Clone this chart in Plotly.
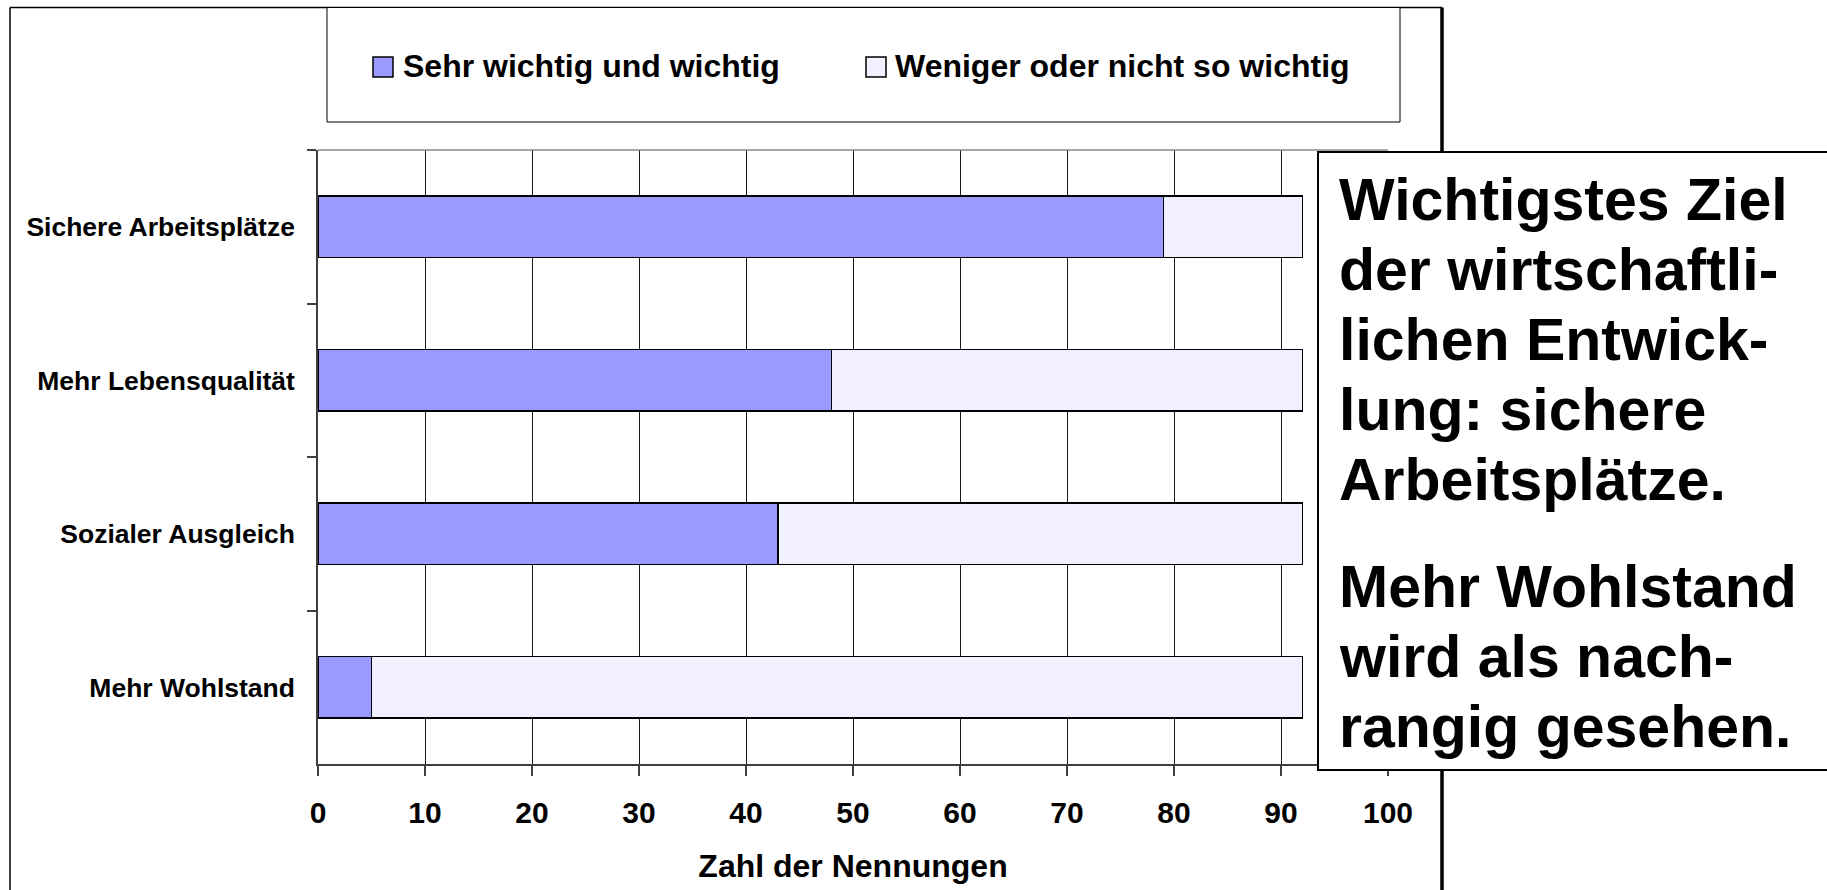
import plotly.graph_objects as go

# ---------------- data ----------------
categories = ["Sichere Arbeitsplätze", "Mehr Lebensqualität", "Sozialer Ausgleich", "Mehr Wohlstand"]
sehr_wichtig = [79, 48, 43, 5]
weniger_wichtig = [13, 44, 49, 87]
series_names = ["Sehr wichtig und wichtig", "Weniger oder nicht so wichtig"]
x_ticks = [0, 10, 20, 30, 40, 50, 60, 70, 80, 90, 100]
x_title = "Zahl der Nennungen"
note_lines_1 = ["Wichtigstes Ziel", "der wirtschaftli-", "lichen Entwick-", "lung: sichere", "Arbeitsplätze."]
note_lines_2 = ["Mehr Wohlstand", "wird als nach-", "rangig gesehen."]

# ---------------- layout geometry ----------------
W, H = 1827, 890
L, T = 318, 150
PW, PH = 1070, 614
R, B = W - L - PW, H - T - PH
FONT = "Liberation Sans, Arial, Helvetica, sans-serif"
C_BLUE = "#9999FF"
C_LIGHT = "#F0F0FF"


def px(x):
    # page x (pixels) -> paper coordinate
    return (x - L) / PW


def py(y):
    # page y (pixels) -> paper coordinate
    return (T + PH - y) / PH


def hline(x0, x1, y, color="black", width=1.5):
    return dict(type="line", xref="paper", yref="paper", x0=px(x0), x1=px(x1), y0=py(y), y1=py(y),
                line=dict(color=color, width=width), layer="above")


def vline(x, y0, y1, color="black", width=1.5):
    return dict(type="line", xref="paper", yref="paper", x0=px(x), x1=px(x), y0=py(y0), y1=py(y1),
                line=dict(color=color, width=width), layer="above")


fig = go.Figure()
fig.add_trace(go.Bar(
    y=categories, x=sehr_wichtig, orientation="h", name=series_names[0],
    marker=dict(color=C_BLUE, line=dict(color="black", width=1.5)),
    showlegend=False,
))
fig.add_trace(go.Bar(
    y=categories, x=weniger_wichtig, orientation="h", name=series_names[1],
    marker=dict(color=C_LIGHT, line=dict(color="black", width=1.5)),
    showlegend=False,
))

shapes = []
annotations = []
TOP = 7.5

# outer chart frame
shapes.append(hline(10, 1442, TOP))
shapes.append(vline(10, TOP, 900))
shapes.append(vline(1442, TOP, 900, width=3.5))
# plot-area top border
shapes.append(dict(type="line", xref="paper", yref="paper", x0=0, x1=1, y0=1, y1=1,
                   line=dict(color="#8a8a8a", width=1.5), layer="above"))

# legend box
shapes.append(dict(type="rect", xref="paper", yref="paper", x0=px(327), x1=px(1400), y0=py(122), y1=py(TOP),
                   line=dict(color="black", width=1), fillcolor="white", layer="above"))
leg_items = [(373, 403, C_BLUE, series_names[0]), (866, 895, C_LIGHT, series_names[1])]
for sx, tx, col, name in leg_items:
    shapes.append(dict(type="rect", xref="paper", yref="paper", x0=px(sx), x1=px(sx + 20), y0=py(77), y1=py(57),
                       line=dict(color="black", width=1.5), fillcolor=col, layer="above"))
    annotations.append(dict(text=name, xref="paper", yref="paper", x=px(tx - 2), y=py(77 - 0.3465 * 32),
                            xanchor="left", yanchor="middle", showarrow=False,
                            font=dict(family=FONT, size=32, color="black", weight="bold")))

# note box (its right side runs past the page edge): white fill + three border lines
shapes.append(dict(type="rect", xref="paper", yref="paper", x0=px(1318), x1=px(1840), y0=py(770), y1=py(152),
                   line=dict(width=0), fillcolor="white", layer="above"))
shapes.append(hline(1317, 1840, 152, width=2))
shapes.append(hline(1317, 1840, 770, width=2))
shapes.append(vline(1318, 151, 771, width=2))
fs_note = 59
baselines = [220, 290, 360, 430, 500, 607, 677, 747]
for line_text, base in zip(note_lines_1 + note_lines_2, baselines):
    annotations.append(dict(text=line_text, xref="paper", yref="paper", x=px(1337), y=py(base - 0.3465 * fs_note),
                            xanchor="left", yanchor="middle", showarrow=False,
                            font=dict(family=FONT, size=fs_note, color="black", weight="bold")))

fig.update_layout(
    width=W, height=H,
    margin=dict(l=L, r=R, t=T, b=B, autoexpand=False),
    paper_bgcolor="white", plot_bgcolor="white",
    barmode="stack", bargap=0.6,
    showlegend=False,
    font=dict(family=FONT, color="black"),
    shapes=shapes, annotations=annotations,
    xaxis=dict(
        range=[0, 100], tickvals=x_ticks, ticktext=[str(v) for v in x_ticks],
        showgrid=True, gridcolor="#1a1a1a", gridwidth=1,
        showline=True, linecolor="#404040", linewidth=1.5,
        ticks="outside", ticklen=10, tickcolor="#404040", tickwidth=1.5,
        tickfont=dict(family=FONT, size=30, color="black", weight="bold"),
        ticklabelstandoff=11,
        zeroline=False, automargin=False,
        title=dict(text=x_title, font=dict(family=FONT, size=32, color="black", weight="bold"), standoff=27),
    ),
    yaxis=dict(
        autorange="reversed", type="category",
        showgrid=False, showline=True, linecolor="#404040", linewidth=1.5,
        ticks="outside", ticklen=9, tickcolor="#404040", tickwidth=1.5, tickson="boundaries",
        tickfont=dict(family=FONT, size=26.5, color="black", weight="bold"),
        ticklabelstandoff=16,
        automargin=False,
    ),
)

# remove the page's default body margin so the figure fills the window exactly
fig.write_html("out.html",
               config={"displayModeBar": False},
               post_script="document.body.style.margin='0';document.body.style.overflow='hidden';")
